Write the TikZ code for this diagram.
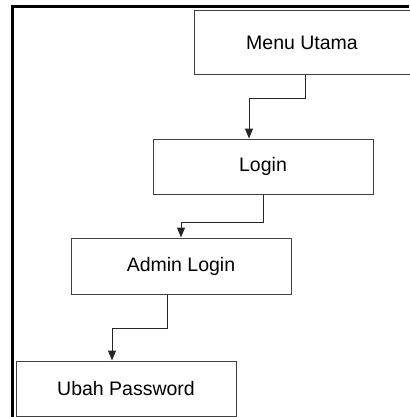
\documentclass[tikz,border=0pt]{standalone}
\usepackage{fontspec}
\setmainfont{Liberation Sans}
\usetikzlibrary{arrows.meta}
\begin{document}
\begin{tikzpicture}[x=1pt,y=1pt,
  box/.style={draw=black!75, line width=1pt, rectangle, fill=white,
    minimum width=220pt, minimum height=55pt, inner sep=0pt,
    font=\fontsize{19.5}{22}\selectfont},
  arr/.style={draw=black!85, line width=1pt, -{Triangle[width=8pt,length=10pt]}}]
\useasboundingbox (0,0) rectangle (409,-417);
% outer frame (open at the right and bottom)
\draw[line width=3pt] (12,-417) -- (12,-7) -- (409,-7);
% menu boxes
\node[box, minimum width=216pt, minimum height=64pt] (menu) at (302,-43) {Menu Utama};
\node[box] (login) at (263,-166.5) {Login};
\node[box, minimum height=56pt] (admin) at (181,-266) {Admin Login};
\node[box] (ubah) at (126,-388.5) {Ubah Password};
% connectors
\draw[arr] ([xshift=3pt]menu.south) -- ++(0,-23) -| ([xshift=-14pt]login.north);
\draw[arr] (login.south) -- ++(0,-28) -| (admin.north);
\draw[arr] ([xshift=-14pt]admin.south) -- ++(0,-34) -| ([xshift=-14pt]ubah.north);
\end{tikzpicture}
\end{document}
